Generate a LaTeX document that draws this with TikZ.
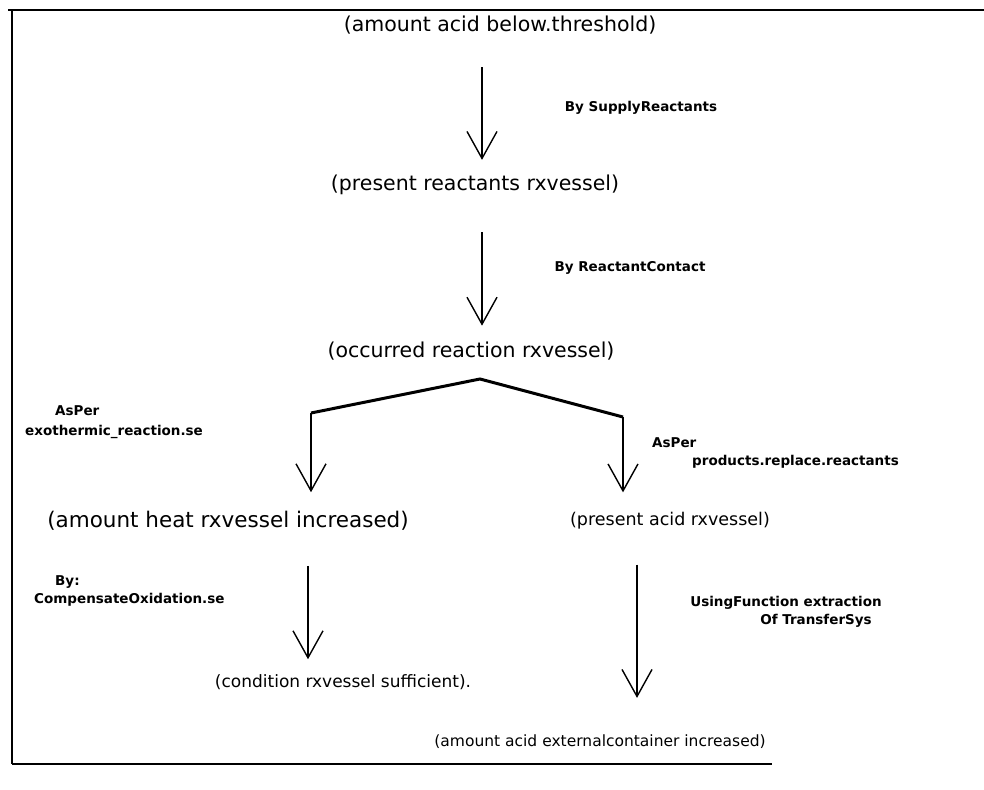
\documentclass[tikz,border=0pt]{standalone}
\usepackage{fontspec}
\setmainfont{DejaVu Sans}
\usetikzlibrary{arrows.meta}
\begin{document}
\begin{tikzpicture}[x=1pt,y=-1pt,
  state/.style={inner sep=0pt, font=\fontsize{20.5}{24}\selectfont},
  via/.style={inner sep=0pt, font=\bfseries\fontsize{13.5}{16}\selectfont, align=center},
  flow/.style={line width=1.2pt, -{Straight Barb[length=27pt,width=30pt,line width=1.4pt]}},
  fork/.style={line width=3pt, line join=miter}]
\useasboundingbox (0,0) rectangle (984,789);
% frame
\draw[line width=2.5pt] (8,10) -- (984,10);
\draw[line width=1.3pt] (12,10) -- (12,764);
\draw[line width=2.5pt] (12,764) -- (772,764);

% states
\node[state] (thr)  at (500,25)  {(amount acid below.threshold)};
\node[state] (pre)  at (475,185) {(present reactants rxvessel)};
\node[state] (occ)  at (471,351) {(occurred reaction rxvessel)};
\node[state, font=\fontsize{21.5}{25}\selectfont] (heat) at (228,521) {(amount heat rxvessel increased)};
\node[state, font=\fontsize{17.5}{21}\selectfont] (acid) at (670,521) {(present acid rxvessel)};
\node[state, font=\fontsize{17}{20}\selectfont] (cond) at (343,682) {(condition rxvessel sufficient).};
\node[state, font=\fontsize{15.5}{18}\selectfont] (ext)  at (600,742) {(amount acid externalcontainer increased)};

% justifications
\node[via] (l1) at (641,108) {By SupplyReactants};
\node[via] (l2) at (630,268) {By ReactantContact};
\node[via, anchor=west] (l3a) at (55,411) {AsPer};
\node[via, anchor=west] (l3b) at (25,432) {exothermic\_reaction.se};
\node[via, anchor=west] (l4a) at (652,443) {AsPer};
\node[via, anchor=west] (l4b) at (692,462) {products.replace.reactants};
\node[via, anchor=west] (l5a) at (55,582) {By:};
\node[via, anchor=west] (l5b) at (34,600) {CompensateOxidation.se};
\node[via] (l6a) at (786,603) {UsingFunction extraction};
\node[via] (l6b) at (816,621) {Of TransferSys};

% arrow columns and fork points
\coordinate (c1) at (482,0);
\coordinate (c2) at (308,0);
\coordinate (c3) at (637,0);
\coordinate (apex) at (480,379);
\coordinate (lc) at (311,413);
\coordinate (rc) at (623,417);

\draw[flow, shorten <=33pt, shorten >=15pt] (thr.south -| c1) -- (pre.north -| c1);
\draw[flow, shorten <=37pt, shorten >=16pt] (pre.south -| c1) -- (occ.north -| c1);
\draw[fork] (lc) -- (apex) -- (rc);
\draw[flow, shorten >=19pt] (lc) -- (heat.north -| lc);
\draw[flow, shorten >=20pt] (rc) -- (acid.north -| rc);
\draw[flow, shorten <=35pt, shorten >=15pt] (heat.south -| c2) -- (cond.north -| c2);
\draw[flow, shorten <=35pt, shorten >=37pt] (acid.south -| c3) -- (ext.north -| c3);
\end{tikzpicture}
\end{document}
